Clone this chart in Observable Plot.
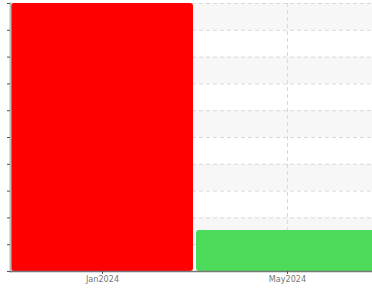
<!DOCTYPE html>
<html>
<head>
<meta charset="utf-8">
<script src="https://cdn.jsdelivr.net/npm/d3@7"></script>
<script src="https://cdn.jsdelivr.net/npm/@observablehq/plot@0.6"></script>
<style>
  html, body { margin: 0; padding: 0; overflow: hidden; background: #fff; width: 372px; height: 290px; }
  #chart svg { display: block; max-width: none !important; }
</style>
</head>
<body>
<div id="chart"></div>
<script>
const months = ["Jan2024", "May2024"];
const values = [10, 1.53];
const barColors = ["#ff0000", "#4cdb5a"];
const yTicks = [0, 1, 2, 3, 4, 5, 6, 7, 8, 9, 10];
const stripeLows = [1, 3, 5, 7, 9];

const data = months.map((m, i) => ({month: m, value: values[i], color: barColors[i]}));
const stripes = stripeLows.map(v => ({y1: v, y2: v + 1}));

const chart = Plot.plot({
  width: 380,
  height: 290,
  marginLeft: 10,
  marginRight: 0,
  marginTop: 3,
  marginBottom: 19,
  style: {fontFamily: "'DejaVu Sans Condensed', 'Liberation Sans Narrow', sans-serif", fontSize: "9px", color: "#666", background: "#fff", maxWidth: "none"},
  x: {domain: months, range: [10, 380], paddingInner: 0.016, paddingOuter: 0.008, label: null},
  y: {domain: [0, 10], label: null},
  marks: [
    Plot.rect(stripes, {y1: "y1", y2: "y2", fill: "#f7f7f7"}),
    Plot.gridY(yTicks, {stroke: "#d9d9d9", strokeOpacity: 1, strokeDasharray: "4,3"}),
    Plot.gridX(months, {stroke: "#d9d9d9", strokeOpacity: 1, strokeDasharray: "4,3"}),
    Plot.barY(data, {x: "month", y: "value", fill: "color", rx: 3}),
    Plot.frame({anchor: "left", stroke: "#bbb", strokeWidth: 2}),
    Plot.axisY(yTicks, {tickSize: 3, tickFormat: () => "", stroke: "#555", label: null}),
    Plot.ruleY([0], {stroke: "#777", strokeWidth: 1.5}),
    Plot.axisX(months, {tickSize: 3, tickPadding: 1, stroke: "#555", fill: "#777", label: null})
  ]
});
document.getElementById("chart").appendChild(chart);
</script>
</body>
</html>
